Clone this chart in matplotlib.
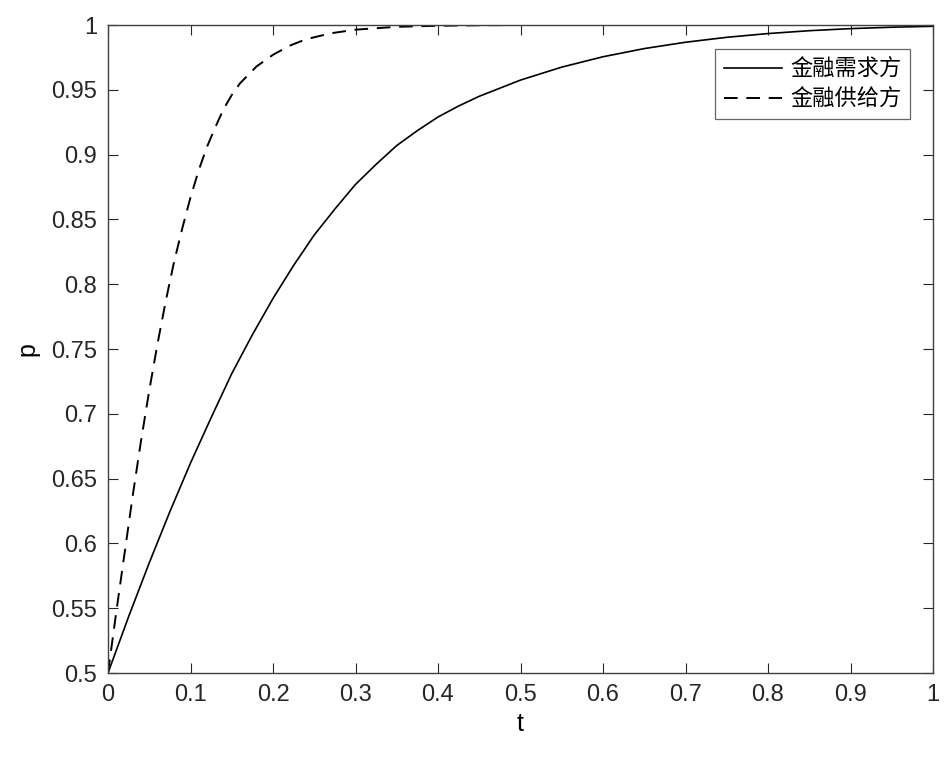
import matplotlib
matplotlib.use("Agg")
import matplotlib.pyplot as plt

# Data
t_demand = [0, 0.025, 0.05, 0.075, 0.1, 0.125, 0.15, 0.175, 0.2, 0.225, 0.25,
            0.275, 0.3, 0.325, 0.35, 0.375, 0.4, 0.425, 0.45, 0.5, 0.55, 0.6,
            0.65, 0.7, 0.75, 0.8, 0.85, 0.9, 0.95, 1.0]
p_demand = [0.5, 0.5435, 0.585, 0.6245, 0.662, 0.697, 0.731, 0.761, 0.789,
            0.8145, 0.838, 0.858, 0.877, 0.8925, 0.907, 0.9185, 0.929, 0.9375,
            0.945, 0.9575, 0.9675, 0.9755, 0.9818, 0.9867, 0.9905, 0.9934,
            0.9956, 0.9972, 0.9983, 0.999]

t_supply = [0, 0.01, 0.02, 0.03, 0.04, 0.05, 0.06, 0.07, 0.08, 0.09, 0.10,
            0.11, 0.12, 0.13, 0.14, 0.15, 0.16, 0.18, 0.20, 0.22, 0.24, 0.27,
            0.30, 0.35, 0.40, 0.45, 0.5, 0.6, 0.7, 0.8, 0.9, 1.0]
p_supply = [0.5, 0.547, 0.592, 0.637, 0.679, 0.718, 0.754, 0.787, 0.817, 0.843,
            0.867, 0.888, 0.906, 0.921, 0.935, 0.946, 0.955, 0.968, 0.977,
            0.984, 0.989, 0.9936, 0.9964, 0.9986, 0.9994, 0.9998, 1.0, 1.0,
            1.0, 1.0, 1.0, 1.0]

labels = ["金融需求方", "金融供给方"]
xticks = [0, 0.1, 0.2, 0.3, 0.4, 0.5, 0.6, 0.7, 0.8, 0.9, 1]
xticklabels = ["0", "0.1", "0.2", "0.3", "0.4", "0.5", "0.6", "0.7", "0.8", "0.9", "1"]
yticks = [0.5, 0.55, 0.6, 0.65, 0.7, 0.75, 0.8, 0.85, 0.9, 0.95, 1]
yticklabels = ["0.5", "0.55", "0.6", "0.65", "0.7", "0.75", "0.8", "0.85", "0.9", "0.95", "1"]

plt.rcParams['font.family'] = ['Liberation Sans', 'Noto Sans CJK SC', 'DejaVu Sans']

fig = plt.figure(figsize=(9.49, 7.63), dpi=100)
ax = fig.add_axes([108/949, 1-673/763, (933-108)/949, (673-25)/763])

ax.plot(t_demand, p_demand, color='black', lw=1.2, label=labels[0])
ax.plot(t_supply, p_supply, color='black', lw=1.4, dashes=(7, 4.5), label=labels[1])

ax.set_xlim(0, 1)
ax.set_ylim(0.5, 1)
ax.set_xticks(xticks)
ax.set_xticklabels(xticklabels)
ax.set_yticks(yticks)
ax.set_yticklabels(yticklabels)
ax.tick_params(direction='in', length=7, width=0.8, top=True, right=True,
               labelsize=17, colors='#262626', pad=8)
for s in ax.spines.values():
    s.set_color('#404040')
    s.set_linewidth(1.0)

ax.set_xlabel('t', fontsize=18, labelpad=4)
ax.set_ylabel('p', fontsize=18, labelpad=8)

leg = ax.legend(loc='upper right', bbox_to_anchor=(910/949, 1-49/763),
                bbox_transform=fig.transFigure,
                prop={'family': ['Noto Sans CJK SC', 'DejaVu Sans'], 'size': 16},
                frameon=True, fancybox=False, edgecolor='#404040',
                handlelength=2.6, borderpad=0.4, labelspacing=0.3,
                handletextpad=0.35, borderaxespad=0)
leg.get_frame().set_linewidth(0.9)

fig.savefig('out.png', dpi=100)
